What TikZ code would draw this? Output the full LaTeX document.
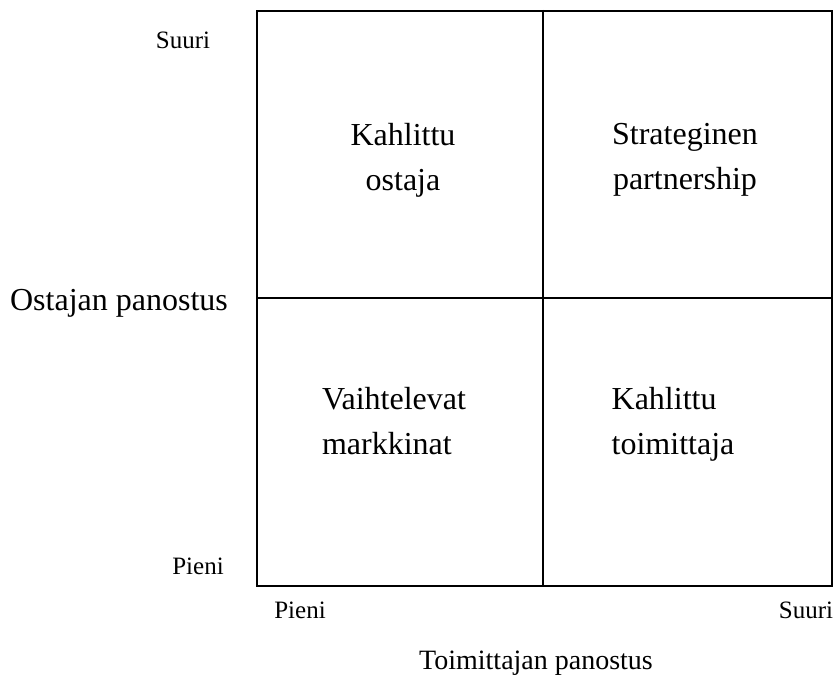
\documentclass[tikz,border=0pt]{standalone}
\usepackage{fontspec}
\setmainfont{Liberation Serif}
\begin{document}
\begin{tikzpicture}[x=1pt,y=-1pt,
  grid/.style={draw=black,line width=2pt},
  small/.style={font=\fontsize{25}{29}\selectfont,inner sep=0pt},
  big/.style={font=\fontsize{32}{45}\selectfont,inner sep=0pt},
  axis/.style={font=\fontsize{28}{32}\selectfont,inner sep=0pt},
  cell/.style={big,align=center},
  cellleft/.style={big,align=left}]
\useasboundingbox (0,0) rectangle (836,679);
% outer frame and dividing lines
\node[grid,minimum width=575pt,minimum height=575pt,inner sep=0pt,anchor=north west] (frame) at (256,10) {};
\coordinate (vtop) at (543,10);
\coordinate (vbot) at (543,585);
\coordinate (hleft) at (256,298);
\coordinate (hright) at (831,298);
\draw[grid] (vtop) -- (vbot);
\draw[grid] (hleft) -- (hright);
% quadrant labels
\node[cell] (q1) at (403,160) {Kahlittu\\ostaja};
\node[cell] (q2) at (685,160) {Strateginen\\partnership};
\node[cellleft] (q3) at (394,421) {Vaihtelevat\\markkinat};
\node[cellleft] (q4) at (673,424) {Kahlittu\\toimittaja};
% axis labels
\node[small] (ytop) at (183,40) {Suuri};
\node[small] (ybot) at (198,566) {Pieni};
\node[small] (xleft) at (300,610) {Pieni};
\node[small] (xright) at (806,610) {Suuri};
\node[big] (ylab) at (119,303) {Ostajan panostus};
\node[axis] (xlab) at (536,663) {Toimittajan panostus};
\end{tikzpicture}
\end{document}
